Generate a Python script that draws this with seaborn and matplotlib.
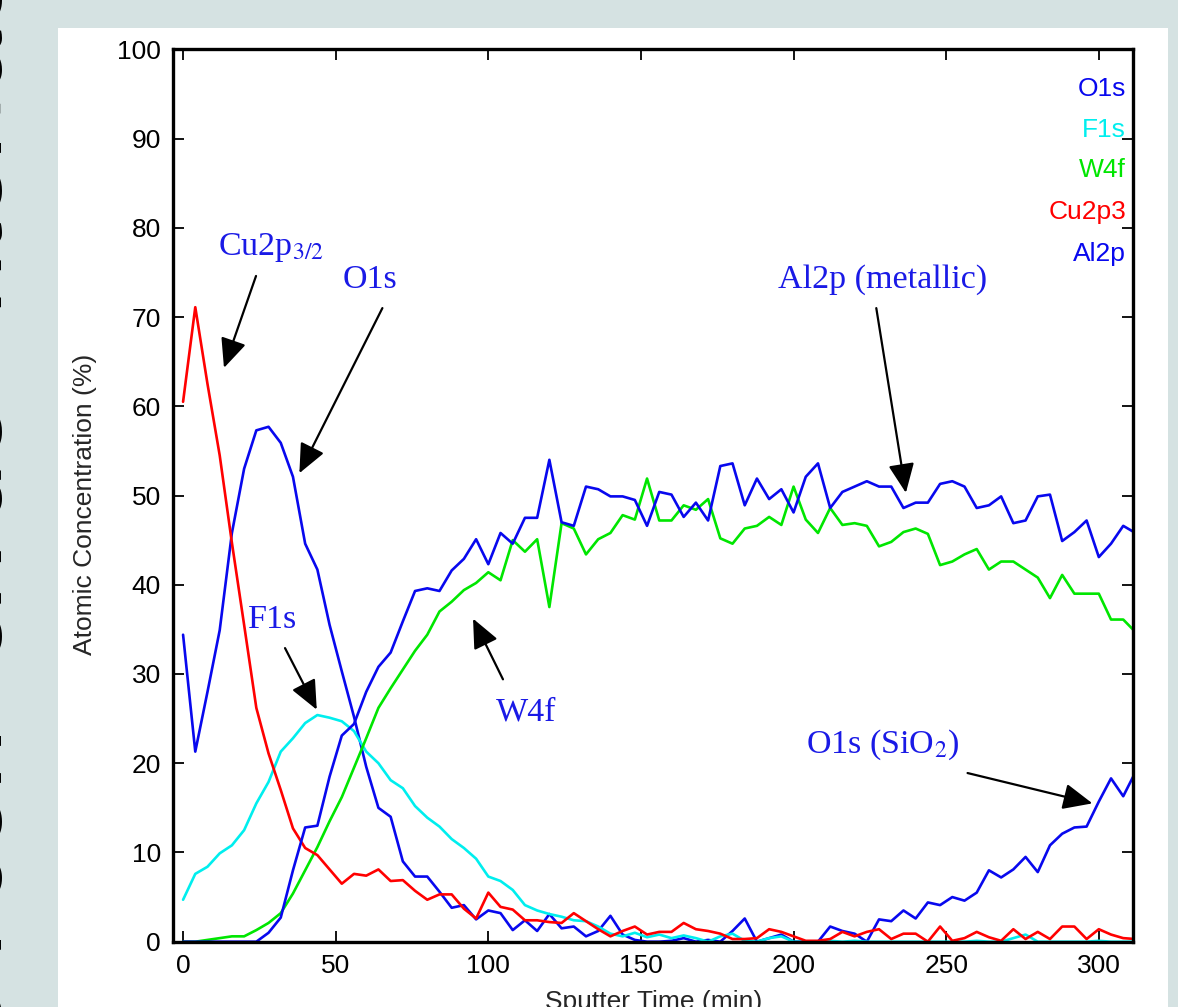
import numpy as np
import pandas as pd
import matplotlib
matplotlib.use("Agg")
import matplotlib.pyplot as plt
from matplotlib.patches import Rectangle
import seaborn as sns

# Sputter times (min), one sample every 4 min
sputter_time = np.arange(0, 313, 4)

o1s = [34.4, 21.3, 28.0, 34.9, 45.8, 53.0, 57.3, 57.7, 55.9, 52.1,
       44.6, 41.7, 35.5, 30.3, 25.2, 19.6, 15.0, 14.0, 9.0, 7.3,
       7.3, 5.6, 3.8, 4.1, 2.5, 3.5, 3.2, 1.3, 2.4, 1.2,
       3.1, 1.5, 1.7, 0.6, 1.2, 2.9, 0.8, 0.2, 0.0, 0.0,
       0.1, 0.4, 0.0, 0.2, 0.0, 1.2, 2.6, 0.0, 0.4, 0.8,
       0.0, 0.0, 0.0, 1.7, 1.2, 0.9, 0.0, 2.5, 2.3, 3.5,
       2.6, 4.4, 4.1, 5.0, 4.6, 5.5, 8.0, 7.2, 8.1, 9.5,
       7.8, 10.8, 12.1, 12.8, 12.9, 15.7, 18.3, 16.3, 19.0]

f1s = [4.7, 7.6, 8.4, 9.9, 10.8, 12.5, 15.5, 17.9, 21.3, 22.8,
       24.5, 25.4, 25.1, 24.7, 23.6, 21.3, 20.0, 18.1, 17.2, 15.2,
       13.9, 12.9, 11.5, 10.5, 9.3, 7.3, 6.8, 5.8, 4.1, 3.5,
       3.1, 2.8, 2.4, 2.3, 1.7, 0.9, 0.6, 1.0, 0.5, 0.8,
       0.4, 0.7, 0.4, 0.0, 0.6, 0.9, 0.1, 0.0, 0.4, 0.6,
       0.0, 0.0, 0.0, 0.1, 0.0, 0.1, 0.0, 0.0, 0.0, 0.0,
       0.0, 0.0, 0.0, 0.0, 0.0, 0.1, 0.0, 0.0, 0.4, 0.8,
       0.0, 0.0, 0.0, 0.0, 0.0, 0.1, 0.0, 0.0, 0.0]

w4f = [0.0, 0.0, 0.2, 0.4, 0.6, 0.6, 1.3, 2.1, 3.2, 5.4,
       8.0, 10.6, 13.5, 16.2, 19.5, 22.8, 26.2, 28.4, 30.5, 32.6,
       34.4, 37.0, 38.1, 39.4, 40.2, 41.4, 40.5, 45.0, 43.7, 45.1,
       37.5, 46.9, 46.3, 43.4, 45.1, 45.8, 47.8, 47.3, 51.9, 47.2,
       47.2, 48.9, 48.4, 49.6, 45.2, 44.6, 46.3, 46.6, 47.6, 46.7,
       51.0, 47.3, 45.8, 48.6, 46.7, 46.9, 46.6, 44.3, 44.8, 45.9,
       46.3, 45.7, 42.2, 42.6, 43.4, 44.0, 41.7, 42.6, 42.6, 41.7,
       40.8, 38.5, 41.1, 39.0, 39.0, 39.0, 36.1, 36.1, 34.7]

cu2p3 = [60.5, 71.1, 62.5, 54.5, 44.7, 35.5, 26.2, 21.1, 17.0, 12.7,
         10.5, 9.7, 8.1, 6.5, 7.6, 7.4, 8.1, 6.8, 6.9, 5.7,
         4.7, 5.3, 5.3, 3.7, 2.6, 5.5, 3.9, 3.6, 2.4, 2.4,
         2.2, 2.1, 3.2, 2.3, 1.4, 0.6, 1.2, 1.7, 0.8, 1.1,
         1.1, 2.1, 1.4, 1.2, 0.9, 0.3, 0.3, 0.4, 1.4, 1.1,
         0.6, 0.1, 0.1, 0.3, 1.1, 0.6, 1.1, 1.4, 0.3, 0.9,
         0.9, 0.0, 1.7, 0.1, 0.4, 1.1, 0.5, 0.1, 1.4, 0.3,
         1.1, 0.3, 1.7, 1.7, 0.3, 1.4, 0.8, 0.4, 0.3]

al2p = [0.0, 0.0, 0.0, 0.0, 0.0, 0.0, 0.0, 1.0, 2.7, 8.0,
        12.8, 13.0, 18.5, 23.1, 24.4, 28.0, 30.8, 32.4, 35.9, 39.3,
        39.6, 39.3, 41.6, 42.9, 45.1, 42.3, 45.8, 44.6, 47.5, 47.5,
        54.0, 47.0, 46.6, 51.0, 50.7, 49.9, 49.9, 49.5, 46.6, 50.4,
        50.1, 47.6, 49.2, 47.2, 53.3, 53.6, 48.9, 51.9, 49.6, 50.7,
        48.1, 52.1, 53.6, 48.6, 50.4, 51.0, 51.6, 51.0, 51.0, 48.6,
        49.2, 49.2, 51.3, 51.6, 51.0, 48.6, 48.9, 49.9, 46.9, 47.2,
        49.9, 50.1, 44.9, 45.9, 47.2, 43.1, 44.6, 46.6, 45.8]

series_names = ["O1s", "F1s", "W4f", "Cu2p3", "Al2p"]
series_values = [o1s, f1s, w4f, cu2p3, al2p]
colors = {"O1s": "#0808ee", "F1s": "#00eeee", "W4f": "#00e600",
          "Cu2p3": "#ff0000", "Al2p": "#0808ee"}

df = pd.concat([pd.DataFrame({"time": sputter_time, "conc": v, "element": n})
                for n, v in zip(series_names, series_values)], ignore_index=True)

sns.set_style("ticks")
plt.rcParams["font.family"] = ["Liberation Sans", "DejaVu Sans"]

W, H = 1178, 1007
fig = plt.figure(figsize=(W / 100, H / 100), dpi=100, facecolor="#d5e2e2")
fig.patches.append(Rectangle((58 / W, 0), (1168 - 58) / W, 1 - 28 / H,
                             transform=fig.transFigure, facecolor="white",
                             edgecolor="none", zorder=-5))
ax = fig.add_axes([173.3 / W, 1 - 941.7 / H, (1133 - 173.3) / W, (941.7 - 49.3) / H])

sns.lineplot(data=df, x="time", y="conc", hue="element", hue_order=series_names,
             palette=colors, linewidth=1.9, legend=False, sort=False, ax=ax)

ax.set_xlim(-3.2, 311.2)
ax.set_ylim(0, 100)
ax.set_xticks(range(0, 301, 50))
ax.set_yticks(range(0, 101, 10))
ax.tick_params(direction="in", top=True, right=True, length=8, width=1.3,
               labelsize=19, pad=9, colors="black")
for s in ax.spines.values():
    s.set_visible(True)
    s.set_linewidth(2.4)
    s.set_color("black")

ax.set_ylabel("Atomic Concentration (%)", fontsize=19)
ax.yaxis.set_label_coords(-0.079, 0.49)
ax.set_xlabel("Sputter Time (min)", fontsize=19)
ax.xaxis.set_label_coords(0.5, -0.054)

# element labels in the top right corner
for name, yv in zip(series_names, [95.5, 91.0, 86.5, 81.8, 77.1]):
    ax.text(308.9, yv, name, color=colors[name], fontsize=19, ha="right", va="center")

# annotations
blue_txt = "#1a1ae6"
serif = ["Liberation Serif", "DejaVu Serif"]
arrow = dict(arrowstyle="-|>,head_length=0.9,head_width=0.4", color="black",
             lw=1.6, mutation_scale=20, shrinkA=0, shrinkB=0)
notes = [
    ("Cu2p$_{3/2}$", (11.5, 77.8), "left", (23.9, 74.6), (13.4, 64.3)),
    ("O1s", (52.4, 74.2), "left", (65.3, 71.0), (38.1, 52.5)),
    ("F1s", (21.3, 36.1), "left", (33.4, 32.9), (43.8, 26.0)),
    ("W4f", (102.6, 25.7), "left", (104.8, 29.4), (95.0, 36.2)),
    ("Al2p (metallic)", (263.4, 74.2), "right", (227.1, 71.0), (236.8, 50.3)),
    ("O1s (SiO$_2$)", (254.3, 22.1), "right", (257.0, 18.9), (297.9, 15.5)),
]
for label, pos, ha, start, tip in notes:
    ax.text(pos[0], pos[1], label, color=blue_txt, fontsize=24.5, family=serif,
            ha=ha, va="center", math_fontfamily="stix")
    ax.annotate("", xy=tip, xytext=start, arrowprops=arrow)

# partly hidden big side title at the left edge
fig.text(0.021, 0.52, "Silicon  oxide  interface", rotation=90, fontsize=80,
         ha="right", va="center", color="black")

fig.savefig("out.png", dpi=100, facecolor=fig.get_facecolor())
